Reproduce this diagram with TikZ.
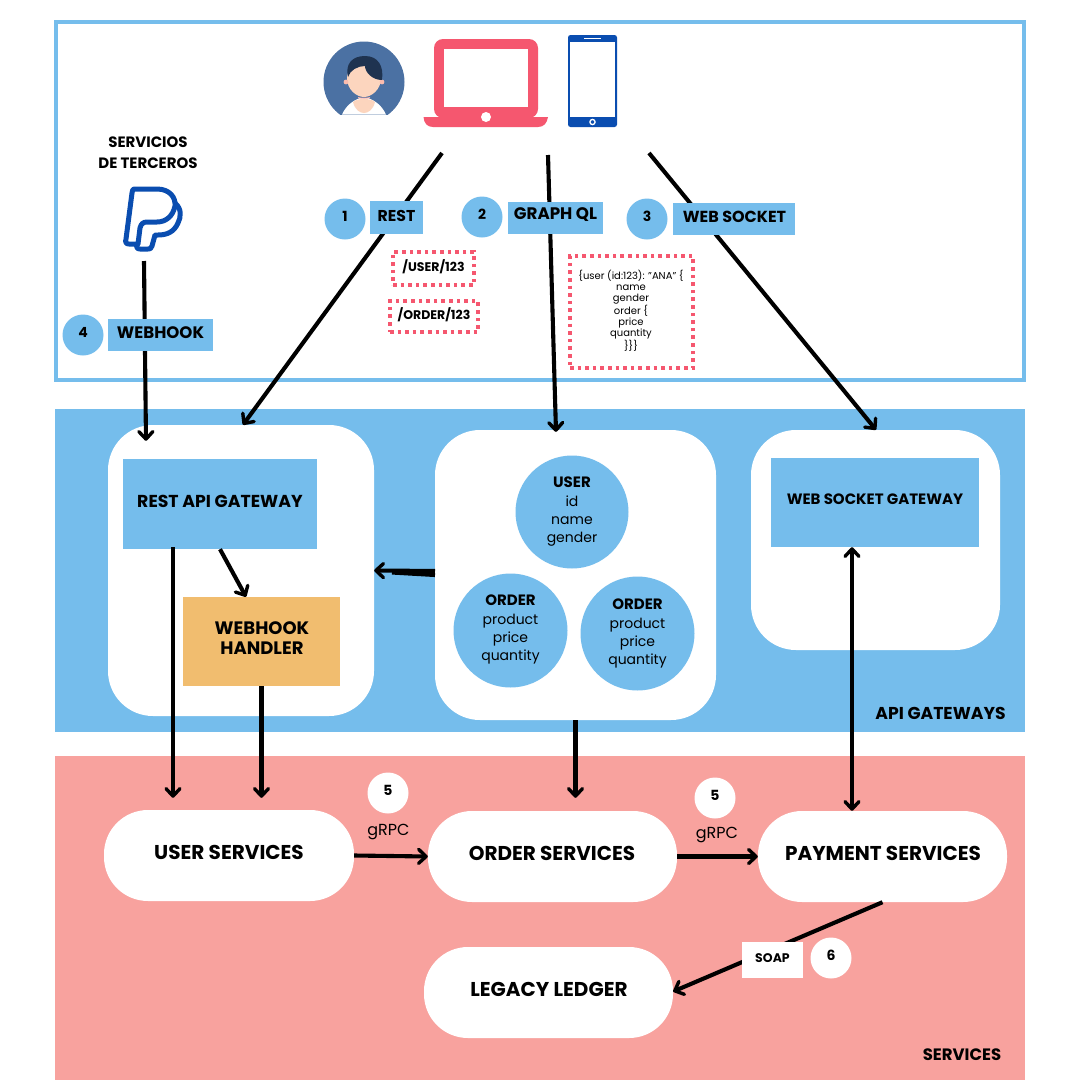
\documentclass[tikz,border=0pt]{standalone}
\usepackage{fontspec}
\setmainfont{Poppins}
\usetikzlibrary{arrows.meta,calc}
\definecolor{sky}{HTML}{75BDEC}
\definecolor{salmon}{HTML}{F8A29E}
\definecolor{rosered}{HTML}{F5576F}
\definecolor{amber}{HTML}{F1BD6F}
\definecolor{ppblue}{HTML}{0A4DB0}
\definecolor{avatar}{HTML}{4B71A3}
\definecolor{hair}{HTML}{1F3350}
\definecolor{skin}{HTML}{FCD5BE}
\newcommand{\fsz}[1]{\fontsize{#1}{#1}\selectfont\baselineskip=1.15\dimexpr#1pt\relax}
\tikzset{
 x=1pt,y=-1pt,
 lab/.style={font=\bfseries\fsz{#1},text=black,inner sep=0pt,align=center},
 reg/.style={font=\fsz{#1},text=black,inner sep=0pt,align=center},
 num/.style={circle,fill=sky,minimum size=41pt,inner sep=0pt},
 wnum/.style={num,fill=white},
 sqbox/.style n args={3}{rectangle,fill=#3,inner sep=0pt,minimum width=#1,minimum height=#2},
 barb/.tip={Straight Barb[length=7.5pt,width=14pt,line width=3.4pt,round]},
 arr/.style={line width=4.1pt,-barb},
 dots/.style={rectangle,draw=rosered,line width=3.6pt,dash pattern=on 3.6pt off 4pt,inner sep=0pt},
 card/.style={rectangle,fill=white,rounded corners=45pt,inner sep=0pt},
 numtxt/.style={lab=14},
}
\newcommand{\numnode}[5]{\node[#1] (#2) at (#3,#4) {}; \node[numtxt] (#2-t) at (#3,{#4-2.5}) {#5};}
\begin{document}
\begin{tikzpicture}
\useasboundingbox (0,0) rectangle (1080,1080);
\fill[white] (0,0) rectangle (1080,1080);
\node[rectangle,draw=sky,line width=3.2pt,inner sep=0pt,minimum width=968pt,minimum height=358pt] (client) at (540,201) {};
\node[sqbox={970pt}{323pt}{sky}] (apiband) at (540,570.5) {};
\node[sqbox={970pt}{324pt}{salmon}] (svcband) at (540,918) {};
% cards
\node[card,minimum width=266pt,minimum height=291pt] (restcard) at (241,570.5) {};
\node[card,minimum width=281pt,minimum height=290pt] (gqlcard) at (575.5,575) {};
\node[card,minimum width=249pt,minimum height=220pt] (wscard) at (875.5,540) {};
% person
\begin{scope}
\clip (320,36) rectangle (410,114);
\fill[avatar] (364,82) circle (40.5);
\end{scope}
\fill[white] (342,114.5) .. controls (346,106) and (352,101) .. (360,98) -- (368,98) .. controls (376,101) and (382,106) .. (386,114.5) -- cycle;
\fill[skin] (353,102) .. controls (356,98) and (372,98) .. (375,102) .. controls (373,110) and (368,113) .. (364,113) .. controls (360,113) and (355,110) .. (353,102) -- cycle;
\draw[skin!70!rosered,line width=1pt] (358,97.5) .. controls (361,98.5) and (367,98.5) .. (370,97.5);
\fill[skin] (347,78) .. controls (347,60) and (381,60) .. (381,78) .. controls (381,90) and (371,97) .. (364,97) .. controls (357,97) and (347,90) .. (347,78) -- cycle;
\fill[skin!80!rosered] (346,82) circle (2.4) (382,82) circle (2.4);
\fill[hair] (348,77) .. controls (345,64) and (352,56) .. (365,56) .. controls (378,56) and (384,66) .. (382,80) .. controls (372,80) and (365,72) .. (365,66) .. controls (358,66) and (350,70) .. (348,77) -- cycle;
% laptop
\fill[rosered,rounded corners=9pt] (434,39) rectangle (538,118);
\fill[white] (444,49) rectangle (528,106.5);
\fill[rosered] (423.5,117) -- (548,117) .. controls (547,123) and (544,127) .. (538,127) -- (433,127) .. controls (427,127) and (424,123) .. (423.5,117) -- cycle;
\fill[white] (486,117) circle (5);
% phone
\fill[ppblue,rounded corners=2.5pt] (568,35) rectangle (617,127);
\fill[white] (569.6,41.5) rectangle (615.4,117);
\draw[white,line width=1.2pt] (584,38.2) -- (601,38.2);
\draw[white,line width=1.3pt] (592.5,122) circle (2.6);
% paypal
\draw[ppblue,line width=5pt,line join=round,line cap=round]
 (134,189) -- (157,189) .. controls (170,189) and (176,198) .. (175,206) .. controls (173,216) and (166,222) .. (157,222) -- (147,222) .. controls (143,222) and (141,224) .. (140,228) -- (138,244) -- (129,244) .. controls (126,244) and (125,242) .. (126,239) -- (132,193) .. controls (132,191) and (133,189) .. (134,189) -- cycle;
\draw[ppblue,line width=5pt,line join=round,line cap=round]
 (175,203) .. controls (182,209) and (181,217) .. (178,223) .. controls (174,232) and (167,235) .. (158,235) -- (155,235) -- (152,246) .. controls (151,249) and (150,249) .. (148,249) -- (140,249) .. controls (137,249) and (136,247) .. (137,244);
\node[lab=15,align=center] (third) at (148,152.5) {SERVICIOS\\[4pt]DE TERCEROS};
% inner boxes
\node[sqbox={194pt}{90pt}{sky}] (restgw) at (220,504) {};
\node[sqbox={157pt}{89pt}{amber}] (hook) at (261.5,641.5) {};
\node[sqbox={208pt}{89pt}{sky}] (wsgw) at (875,502.5) {};
\node[circle,fill=sky,minimum size=113pt,inner sep=0pt] (cuser) at (572,512) {};
\node[circle,fill=sky,minimum size=114pt,inner sep=0pt] (corder1) at (510.5,630.5) {};
\node[circle,fill=sky,minimum size=114pt,inner sep=0pt] (corder2) at (637.5,633.5) {};
% services
\node[card,rounded corners=44pt,minimum width=250pt,minimum height=91pt] (usersvc) at (229,855.5) {};
\node[card,rounded corners=44pt,minimum width=249pt,minimum height=91pt] (ordersvc) at (552.5,856.5) {};
\node[card,rounded corners=44pt,minimum width=249pt,minimum height=91pt] (paysvc) at (882.5,856.5) {};
\node[card,rounded corners=44pt,minimum width=249pt,minimum height=91pt] (legacy) at (548.5,992.5) {};
% connectors
\coordinate (laptopA) at (442,153);
\coordinate (laptopB) at (548,155);
\coordinate (laptopC) at (649,153);
\coordinate (ppout) at (144,261);
\coordinate (gA) at (435,575);
\coordinate (gB) at (435,571);
\coordinate (gC) at (392,572.5);
\draw[arr] (laptopA) -- ([xshift=2pt]restcard.north);
\draw[arr] (laptopB) -- ([xshift=-19.5pt,yshift=-2pt]gqlcard.north);
\draw[arr] (laptopC) -- ([xshift=0.5pt]wscard.north);
\draw[arr] (ppout) -- ([xshift=-95pt,yshift=-16pt]restcard.north);
\draw[line width=4.1pt] (gA) -- (gC);
\draw[arr] (gB) -- (restcard.east);
\draw[arr] ([xshift=-47pt,yshift=2pt]restgw.south) -- ([xshift=-56pt,yshift=12pt]usersvc.north);
\draw[arr] (restgw.south) -- ([xshift=-15.5pt]hook.north);
\draw[arr] (hook.south) -- ([xshift=32.5pt,yshift=12pt]usersvc.north);
\draw[arr] (gqlcard.south) -- ([xshift=23pt,yshift=13pt]ordersvc.north);
\draw[line width=4.1pt,barb-barb] ([xshift=-23pt]wsgw.south) -- ([xshift=-30.5pt]paysvc.north);
\draw[arr] (usersvc.east) -- (ordersvc.west);
\draw[arr] (ordersvc.east) -- (paysvc.west);
\draw[arr] (paysvc.south) -- ([yshift=1pt]legacy.east);
% top labels
\numnode{num}{n1}{345}{219}{1}
\numnode{num}{n2}{482}{217}{2}
\numnode{num}{n3}{647}{219}{3}
\numnode{num}{n4}{83}{335}{4}
\node[sqbox={53pt}{33pt}{sky}] (lrest) at (396.5,217.5) {};
\node[lab=15.7] (lrest-t) at (396.5,215.5) {REST};
\node[sqbox={95pt}{32pt}{sky}] (lgql) at (555.5,218) {};
\node[lab=16.7] (lgql-t) at (555.5,215) {GRAPH QL};
\node[sqbox={122pt}{32pt}{sky}] (lws) at (734,219) {};
\node[lab=16] (lws-t) at (734.5,216.5) {WEB SOCKET};
\node[sqbox={105pt}{32pt}{sky}] (lhook) at (160.5,335) {};
\node[lab=16.6] (lhook-t) at (160.5,332.5) {WEBHOOK};
\node[dots,minimum width=81pt,minimum height=33pt] (duser) at (433.5,268.5) {};
\node[lab=12.5] (duser-t) at (433.5,267) {/USER/123};
\node[dots,minimum width=88pt,minimum height=31pt] (dorder) at (434,316.5) {};
\node[lab=12.5] (dorder-t) at (434,315) {/ORDER/123};
\node[dots,minimum width=123pt,minimum height=112pt] (dcode) at (631.5,312) {};
\node[reg=10,font=\fontsize{10}{11}\selectfont] (dcode-t) at (631,310.5) {\{user (id:123): "ANA" \{\\name\\gender\\order \{\\price\\quantity\\\}\}\}};
% gateway texts
\node[lab=17.3] (restgw-t) at (220,501.5) {REST API GATEWAY};
\node[lab=18] (hook-t) at (262,638) {WEBHOOK\\HANDLER};
\node[lab=15] (wsgw-t) at (875,499.5) {WEB SOCKET GATEWAY};
\node[lab=15] (cuser-h) at (572,482.5) {USER};
\node[reg=14,font=\fontsize{14}{18}\selectfont] (cuser-t) at (572,521) {id\\name\\gender};
\node[lab=15] (c1-h) at (510.5,600.5) {ORDER};
\node[reg=14,font=\fontsize{14}{18}\selectfont] (c1-t) at (510.5,639) {product\\price\\quantity};
\node[lab=15] (c2-h) at (637.5,604.5) {ORDER};
\node[reg=14,font=\fontsize{14}{18}\selectfont] (c2-t) at (637.5,643) {product\\price\\quantity};
\node[lab=17.2] (apilabel) at (940.5,713.5) {API GATEWAYS};
\node[lab=16.5] (svclabel) at (962,1054.5) {SERVICES};
% service texts
\node[lab=20] (usersvc-t) at (229,852.5) {USER SERVICES};
\node[lab=20] (ordersvc-t) at (552,853.5) {ORDER SERVICES};
\node[lab=20] (paysvc-t) at (883,853.5) {PAYMENT SERVICES};
\node[lab=20] (legacy-t) at (549,989.5) {LEGACY LEDGER};
\numnode{wnum}{n5a}{388}{793}{5}
\numnode{wnum}{n5b}{715}{798}{5}
\numnode{wnum}{n6}{831}{958}{6}
\node[reg=16] (g1) at (388.5,832) {gRPC};
\node[reg=16] (g2) at (717,835) {gRPC};
\node[sqbox={61pt}{36pt}{white}] (lsoap) at (772.5,960) {};
\node[lab=12.5] (lsoap-t) at (772.5,958.5) {SOAP};
\end{tikzpicture}
\end{document}
